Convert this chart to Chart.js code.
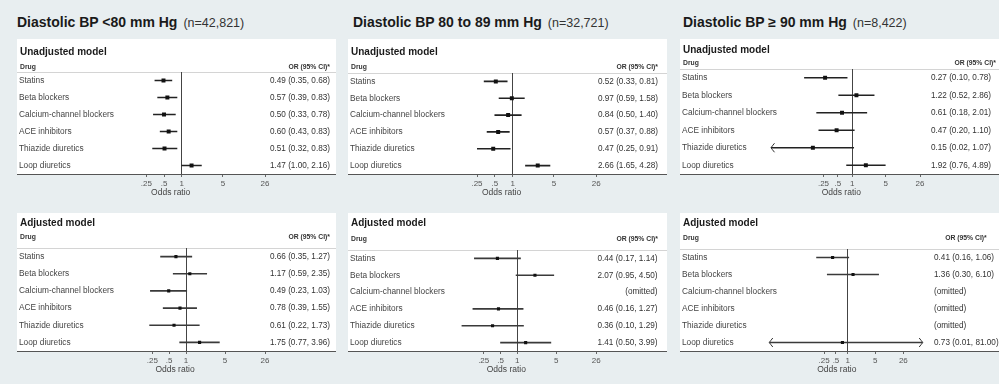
<!DOCTYPE html>
<html>
<head>
<meta charset="utf-8">
<script src="https://cdn.jsdelivr.net/npm/chart.js@4.4.1/dist/chart.umd.min.js"></script>
<style>
body{margin:0;background:#e8eef0;width:999px;height:384px;overflow:hidden;position:relative;font-family:"Liberation Sans",Arial,sans-serif}
.title{position:absolute;top:14px;font-size:14px;font-weight:bold;line-height:16px;color:#1a1a1a;white-space:nowrap}
.title span{font-weight:normal;font-size:12.5px;margin-left:6px;color:#333}
canvas{position:absolute}
</style>
</head>
<body>
<div class="title" style="left:17px">Diastolic BP &lt;80 mm Hg<span>(n=42,821)</span></div>
<div class="title" style="left:353px">Diastolic BP 80 to 89 mm Hg<span>(n=32,721)</span></div>
<div class="title" style="left:683px">Diastolic BP ≥ 90 mm Hg<span>(n=8,422)</span></div>
<canvas id="c1"></canvas>
<canvas id="c2"></canvas>
<canvas id="c3"></canvas>
<canvas id="c4"></canvas>
<canvas id="c5"></canvas>
<canvas id="c6"></canvas>
<script>
const drugs = ['Statins', 'Beta blockers', 'Calcium-channel blockers', 'ACE inhibitors', 'Thiazide diuretics', 'Loop diuretics'];
const tickVals = [0.25, 0.5, 1, 5, 26];
const tickLabels = ['.25', '.5', '1', '5', '26'];
// CIs reaching past these get an arrow head
const arrowLow = 0.1;
const arrowHigh = 26;

// Diastolic BP <80
const lt80UnadjOR = [0.49, 0.57, 0.50, 0.60, 0.51, 1.47];
const lt80UnadjLo = [0.35, 0.39, 0.33, 0.43, 0.32, 1.00];
const lt80UnadjHi = [0.68, 0.83, 0.78, 0.83, 0.83, 2.16];
const lt80AdjOR = [0.66, 1.17, 0.49, 0.78, 0.61, 1.75];
const lt80AdjLo = [0.35, 0.59, 0.23, 0.39, 0.22, 0.77];
const lt80AdjHi = [1.27, 2.35, 1.03, 1.55, 1.73, 3.96];

// Diastolic BP 80 to 89
const mid80UnadjOR = [0.52, 0.97, 0.84, 0.57, 0.47, 2.66];
const mid80UnadjLo = [0.33, 0.59, 0.50, 0.37, 0.25, 1.65];
const mid80UnadjHi = [0.81, 1.58, 1.40, 0.88, 0.91, 4.28];
const mid80AdjOR = [0.44, 2.07, null, 0.46, 0.36, 1.41];
const mid80AdjLo = [0.17, 0.95, null, 0.16, 0.10, 0.50];
const mid80AdjHi = [1.14, 4.50, null, 1.27, 1.29, 3.99];

// Diastolic BP >= 90
const ge90UnadjOR = [0.27, 1.22, 0.61, 0.47, 0.15, 1.92];
const ge90UnadjLo = [0.10, 0.52, 0.18, 0.20, 0.02, 0.76];
const ge90UnadjHi = [0.78, 2.86, 2.01, 1.10, 1.07, 4.89];
const ge90AdjOR = [0.41, 1.36, null, null, null, 0.73];
const ge90AdjLo = [0.16, 0.30, null, null, null, 0.01];
const ge90AdjHi = [1.06, 6.10, null, null, null, 81.00];

const FONT = '"Liberation Sans", Arial, sans-serif';
const BOXW = 319;

const panels = [
  {id: 'c1', model: 'Unadjusted model', or: lt80UnadjOR, lo: lt80UnadjLo, hi: lt80UnadjHi,
   left: 17, top: 39, height: 160, headTop: 33, modelY: 13, drugY: 28, plotL: 146.3, plotR: 265, orX: 330, orAlign: 'right', orHeadX: 330, pointR: 2.8},
  {id: 'c2', model: 'Adjusted model', or: lt80AdjOR, lo: lt80AdjLo, hi: lt80AdjHi,
   left: 17, top: 213, height: 163, headTop: 35, modelY: 10, drugY: 24, plotL: 149.3, plotR: 265, orX: 330, orAlign: 'right', orHeadX: 330, pointR: 2.2},
  {id: 'c3', model: 'Unadjusted model', or: mid80UnadjOR, lo: mid80UnadjLo, hi: mid80UnadjHi,
   left: 348, top: 39, height: 160, headTop: 34, modelY: 13, drugY: 28, plotL: 477, plotR: 596.3, orX: 658, orAlign: 'right', orHeadX: 658, pointR: 2.8},
  {id: 'c4', model: 'Adjusted model', or: mid80AdjOR, lo: mid80AdjLo, hi: mid80AdjHi,
   left: 348, top: 213, height: 163, headTop: 37, modelY: 10, drugY: 26.6, plotL: 461.5, plotR: 596.3, orX: 657.5, orAlign: 'right', orHeadX: 658, pointR: 2.2},
  {id: 'c5', model: 'Unadjusted model', or: ge90UnadjOR, lo: ge90UnadjLo, hi: ge90UnadjHi,
   left: 680, top: 39, height: 160, headTop: 30, modelY: 11, drugY: 24.3, plotL: 771, plotR: 920, orX: 991, orAlign: 'right', orHeadX: 996, pointR: 2.8},
  {id: 'c6', model: 'Adjusted model', or: ge90AdjOR, lo: ge90AdjLo, hi: ge90AdjHi,
   left: 680, top: 213, height: 163, headTop: 36, modelY: 10, drugY: 25, plotL: 769.3, plotR: 922.7, orX: 926, orAlign: 'left', orHeadX: 986.7, pointR: 2.2}
];

// white box, header texts, full width lines, arrows for clipped CIs
const framePlugin = {
  id: 'frame',
  beforeDraw(chart, args, opts) {
    const {ctx, chartArea, width} = chart;
    ctx.save();
    ctx.fillStyle = '#fff';
    ctx.fillRect(0, 0, width, chartArea.bottom);
    ctx.strokeStyle = '#d4d4d4';
    ctx.lineWidth = 1;
    ctx.beginPath();
    ctx.moveTo(0, Math.round(chartArea.top) + 0.5);
    ctx.lineTo(width, Math.round(chartArea.top) + 0.5);
    ctx.stroke();
    ctx.fillStyle = '#1a1a1a';
    ctx.textBaseline = 'middle';
    ctx.textAlign = 'left';
    ctx.font = 'bold 10px ' + FONT;
    ctx.fillText(opts.model, 3, opts.modelY);
    ctx.font = 'bold 6.8px ' + FONT;
    ctx.fillStyle = '#333';
    ctx.fillText('Drug', 3, opts.drugY);
    ctx.textAlign = 'right';
    ctx.fillText('OR (95% CI)*', opts.orHeadX, opts.drugY);
    ctx.restore();
  },
  afterDraw(chart, args, opts) {
    const {ctx, chartArea, width} = chart;
    const xs = chart.scales.x, ys = chart.scales.y;
    ctx.save();
    ctx.strokeStyle = '#555';
    ctx.lineWidth = 1;
    ctx.beginPath();
    ctx.moveTo(0, Math.round(chartArea.bottom) + 0.5);
    ctx.lineTo(width, Math.round(chartArea.bottom) + 0.5);
    ctx.stroke();
    ctx.fillStyle = '#444';
    ctx.font = '8.5px ' + FONT;
    ctx.textAlign = 'center';
    ctx.textBaseline = 'middle';
    ctx.fillText('Odds ratio', xs.getPixelForValue(1) - 11, chartArea.bottom + 18.5);
    ctx.strokeStyle = '#333';
    chart.data.datasets[0].data.forEach((d, i) => {
      if (!d) return;
      const y = ys.getPixelForValue(i);
      if (d[0] < arrowLow) {
        const x = xs.getPixelForValue(d[0]);
        ctx.beginPath();
        ctx.moveTo(x + 3.5, y - 4.5);
        ctx.quadraticCurveTo(x + 1, y - 1.5, x, y);
        ctx.quadraticCurveTo(x + 1, y + 1.5, x + 3.5, y + 4.5);
        ctx.stroke();
      }
      if (d[1] > arrowHigh) {
        const x = xs.getPixelForValue(d[1]);
        ctx.beginPath();
        ctx.moveTo(x - 3.5, y - 4.5);
        ctx.quadraticCurveTo(x - 1, y - 1.5, x, y);
        ctx.quadraticCurveTo(x - 1, y + 1.5, x - 3.5, y + 4.5);
        ctx.stroke();
      }
    });
    ctx.restore();
  }
};

function fmt(v) { return v.toFixed(2); }

panels.forEach(p => {
  const cv = document.getElementById(p.id);
  cv.width = BOXW;
  cv.height = p.height;
  cv.style.left = p.left + 'px';
  cv.style.top = p.top + 'px';

  const orLabels = p.or.map((v, i) => v == null ? '(omitted)' : fmt(v) + ' (' + fmt(p.lo[i]) + ', ' + fmt(p.hi[i]) + ')');
  const ciData = p.lo.map((l, i) => l == null ? null : [l, p.hi[i]]);
  const los = p.lo.filter(v => v != null), his = p.hi.filter(v => v != null);
  const xMin = Math.min(0.25, ...los);
  const xMax = Math.max(26, ...his);

  const leftW = p.plotL - p.left - 2;
  let padR, rightW, rightTicks;
  if (p.orAlign === 'right') {
    padR = p.left + BOXW - p.orX;
    rightW = p.orX - p.plotR;
    rightTicks = {crossAlign: 'far', padding: 0};
  } else {
    padR = 0;
    rightW = p.left + BOXW - p.plotR;
    rightTicks = {crossAlign: 'near', padding: p.orX - p.plotR};
  }
  const bottomRow = p.top > 100;

  new Chart(cv, {
    type: 'bar',
    data: {
      labels: drugs,
      datasets: [
        {type: 'bar', data: ciData, backgroundColor: bottomRow ? '#3a3a3a' : '#222', barThickness: 1, borderWidth: 0, order: 2},
        {type: 'line', indexAxis: 'y', data: p.or, showLine: false, pointStyle: 'rect', pointRadius: p.pointR,
         pointBackgroundColor: '#111', pointBorderWidth: 0, order: 1}
      ]
    },
    options: {
      indexAxis: 'y',
      responsive: false,
      animation: false,
      layout: {padding: {left: 2, right: padR, top: p.headTop, bottom: 0}},
      plugins: {
        legend: {display: false},
        tooltip: {enabled: false},
        frame: {model: p.model, modelY: p.modelY, drugY: p.drugY, orHeadX: p.orHeadX - p.left}
      },
      scales: {
        x: {
          type: 'logarithmic',
          min: xMin,
          max: xMax,
          afterFit: s => { s.height = 25; },
          afterBuildTicks: s => { s.ticks = tickVals.filter(v => v >= s.min && v <= s.max).map(v => ({value: v})); },
          ticks: {
            autoSkip: false, maxRotation: 0, padding: 2, color: '#555',
            font: {family: FONT, size: 8},
            callback: v => tickLabels[tickVals.indexOf(v)]
          },
          grid: {
            color: c => (c.tick && c.tick.value === 1) ? '#444' : 'rgba(0,0,0,0)',
            tickColor: '#666', tickLength: 3, lineWidth: 1
          },
          border: {display: false}
        },
        y: {
          type: 'category',
          position: 'left',
          afterFit: s => { s.width = leftW; },
          // mirrored so long drug names may run into the plot area without clipping
          ticks: {mirror: true, crossAlign: 'near', padding: -leftW, autoSkip: false, color: '#444', font: {family: FONT, size: 8.3}},
          grid: {display: false},
          border: {display: false}
        },
        y2: {
          type: 'category',
          position: 'right',
          labels: orLabels,
          offset: true,
          afterFit: s => { s.width = rightW; },
          ticks: Object.assign({autoSkip: false, color: '#333', font: {family: FONT, size: 8.2}}, rightTicks),
          grid: {display: false},
          border: {display: false}
        }
      }
    },
    plugins: [framePlugin]
  });
});
</script>
</body>
</html>
